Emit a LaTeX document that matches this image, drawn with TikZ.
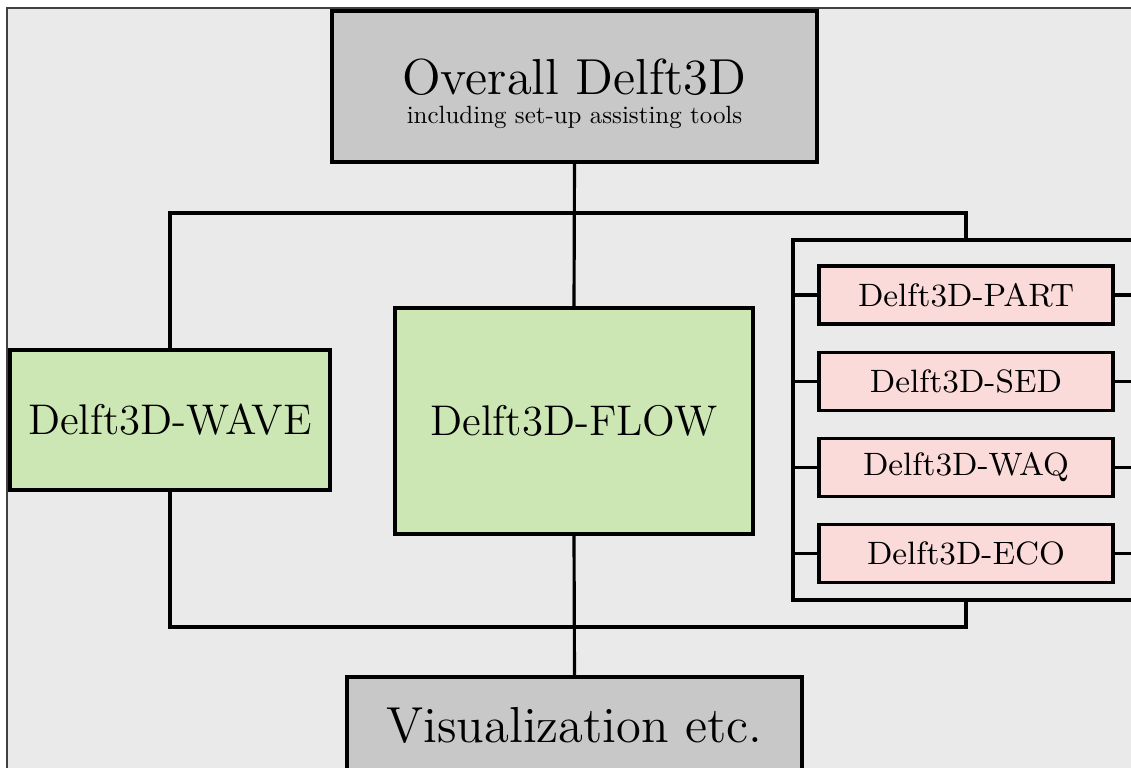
\documentclass[tikz,border=0pt]{standalone}
\usetikzlibrary{positioning, calc}
\definecolor{cframe}{HTML}{EAEAEA}
\definecolor{cgrey}{HTML}{C8C8C8}
\definecolor{cgreen}{HTML}{CCE6B4}
\definecolor{cpink}{HTML}{FBDADA}
\tikzset{
  every picture/.style={line width=0.9pt},
  box/.style={draw=black, fill=#1, align=center, inner sep=2pt},
  box/.default=cgrey,
  link/.style={draw=black, line width=0.9pt},
  big/.style={font=\fontsize{14.4}{17}\selectfont},
  mid/.style={font=\fontsize{12.2}{14}\selectfont},
  small/.style={font=\fontsize{9.2}{11}\selectfont},
}

\begin{document}
\begin{tikzpicture}
  \clip (0,0) rectangle (11.31,7.67);
  \draw[fill=cframe, draw=black!75, line width=0.6pt] (0.07,7.59) rectangle (12,-1);
  \node[box=cgrey, big, minimum width=4.85cm, minimum height=1.51cm] (top) at (5.745,6.805) {};
  \node[big, inner sep=0pt] (toptxt) at (5.745,6.90) {Overall Delft3D};
  \node[font=\fontsize{10}{12}\selectfont, inner sep=0pt, scale=0.71, transform shape, below=2.4pt of toptxt] (topsub) {including set-up assisting tools};
  \node[box=cgreen, mid, minimum width=3.20cm, minimum height=1.40cm] (wave) at (1.70,3.47) {Delft3D-WAVE};
  \node[box=cgreen, mid, minimum width=3.58cm, minimum height=2.26cm] (flow) at (5.74,3.46) {Delft3D-FLOW};
  \node[draw=black, minimum width=3.46cm, minimum height=3.60cm] (grp) at (9.66,3.47) {};
  \node[box=cpink, small, minimum width=2.94cm, minimum height=0.58cm] (part) at (9.66,4.72) {Delft3D-PART};
  \node[box=cpink, small, minimum width=2.94cm, minimum height=0.58cm, below=0.25cm of part] (sed) {Delft3D-SED};
  \node[box=cpink, small, minimum width=2.94cm, minimum height=0.58cm, below=0.25cm of sed] (waq) {Delft3D-WAQ};
  \node[box=cpink, small, minimum width=2.94cm, minimum height=0.58cm, below=0.25cm of waq] (eco) {Delft3D-ECO};
  \node[box=cgrey, big, minimum width=4.55cm, minimum height=0.96cm] (vis) at (5.745,0.42) {Visualization etc.};
  \coordinate (topbus) at (5.745,5.54);
  \coordinate (botbus) at (5.745,1.40);
  \draw[link] (top.south) -- (flow.north);
  \draw[link] (wave.north) |- (topbus) -| (grp.north);
  \draw[link] (wave.south) |- (botbus) -| (grp.south);
  \draw[link] (flow.south) -- (vis.north);
  \foreach \m in {part, sed, waq, eco} {
    \draw[link] (grp.west |- \m.west) -- (\m.west);
    \draw[link] (\m.east) -- (grp.east |- \m.east);
  }
\end{tikzpicture}
\end{document}
